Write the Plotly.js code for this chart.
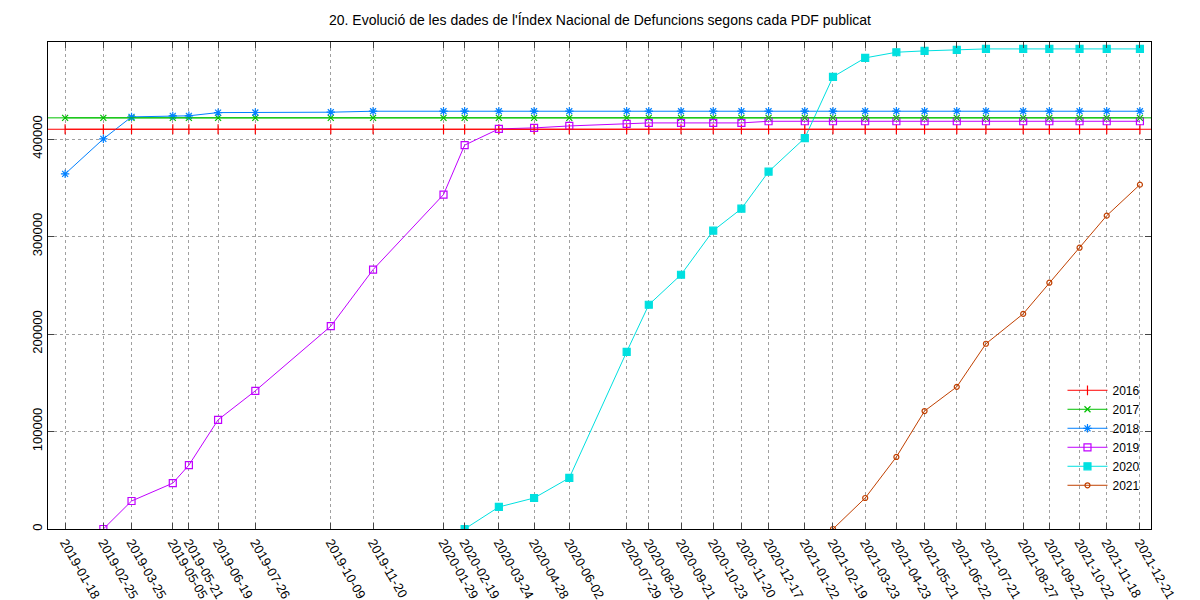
<!DOCTYPE html>
<html><head><meta charset="utf-8">
<script src="https://cdn.plot.ly/plotly-3.0.1.min.js"></script>
<style>body{margin:0}#c{width:1200px;height:600px}</style></head>
<body><div id="c"></div>
<script>
const dates = ["2019-01-18","2019-02-25","2019-03-25","2019-05-05","2019-05-21","2019-06-19","2019-07-26","2019-10-09","2019-11-20","2020-01-29","2020-02-19","2020-03-24","2020-04-28","2020-06-02","2020-07-29","2020-08-20","2020-09-21","2020-10-23","2020-11-20","2020-12-17","2021-01-22","2021-02-19","2021-03-23","2021-04-23","2021-05-21","2021-06-22","2021-07-21","2021-08-27","2021-09-22","2021-10-22","2021-11-18","2021-12-21"];
const v2016 = 410000;
const v2017 = 421700;
const s2018 = [364200,400100,422700,423700,423800,427100,427200,427500,428500,428500,428500,428500,428500,428500,428500,428500,428500,428500,428500,428500,428500,428500,428500,428500,428500,428500,428500,428500,428500,428500,428500,428500];
const s2019 = [null,0,28700,47000,65500,112000,141700,208000,266000,343000,393700,410400,411400,413400,415500,416500,416500,416500,416500,418200,418200,418200,418200,418200,418200,418200,418200,418200,418200,418200,418200,418200];
const s2020 = [null,null,null,null,null,null,null,null,null,null,0,22600,31800,52400,181700,230000,260800,306000,328500,366500,401000,463700,483200,489000,490400,491400,492400,492400,492400,492400,492400,492400];
const s2021 = [null,null,null,null,null,null,null,null,null,null,null,null,null,null,null,null,null,null,null,null,null,0,31800,73900,121000,145800,190000,220700,252600,288500,321400,353200];

const series = [
  {name:"2016", y:dates.map(()=>v2016), color:"#ff0000", symbol:"line-ns", size:7},
  {name:"2017", y:dates.map(()=>v2017), color:"#00c000", symbol:"x-thin", size:6},
  {name:"2018", y:s2018, color:"#0080ff", symbol:"asterisk", size:7},
  {name:"2019", y:s2019, color:"#c000ff", symbol:"square-open", size:7},
  {name:"2020", y:s2020, color:"#00e0e0", symbol:"square", size:7},
  {name:"2021", y:s2021, color:"#c04000", symbol:"circle-open", size:5}
];
const traces = series.map(s=>({
  x:dates, y:s.y, name:s.name, type:"scatter", mode:"lines+markers",
  line:{color:s.color,width:1},
  marker:{symbol:s.symbol,size:s.size,color:s.color,line:{color:s.color,width:1.2}},
  connectgaps:false
}));
const layout = {
  width:1200,height:600,
  margin:{l:48,r:49,t:42,b:71},
  paper_bgcolor:"#fff",plot_bgcolor:"#fff",
  font:{family:"Liberation Sans, Arial, sans-serif",size:13,color:"#000"},
  title:{text:"20. Evolució de les dades de l'Índex Nacional de Defuncions segons cada PDF publicat",x:0.5,y:0.975,xanchor:"center",font:{size:14}},
  showlegend:true,
  legend:{x:0.995,y:0.06,xanchor:"right",yanchor:"bottom",bgcolor:"rgba(0,0,0,0)",font:{size:12},tracegroupgap:0,itemwidth:40},
  xaxis:{type:"date",range:["2019-01-01","2022-01-01"],tickmode:"array",tickvals:dates,ticktext:dates,
    tickangle:60,showgrid:true,gridcolor:"#a0a0a0",griddash:"dot",gridwidth:1,
    showline:true,linecolor:"#000",mirror:"ticks",ticks:"inside",ticklen:6,zeroline:false},
  yaxis:{range:[0,499500],tickvals:[0,100000,200000,300000,400000],ticktext:["0","100000","200000","300000","400000"],
    tickangle:-90,showgrid:true,gridcolor:"#a0a0a0",griddash:"dot",gridwidth:1,
    showline:true,linecolor:"#000",mirror:"ticks",ticks:"inside",ticklen:6,zeroline:false},
  shapes:[
    {type:"line",xref:"paper",x0:0,x1:1,yref:"y",y0:v2016,y1:v2016,line:{color:"#ff0000",width:1}},
    {type:"line",xref:"paper",x0:0,x1:1,yref:"y",y0:v2017,y1:v2017,line:{color:"#00c000",width:1}}
  ]
};
Plotly.newPlot("c",traces,layout,{displayModeBar:false});
</script></body></html>
